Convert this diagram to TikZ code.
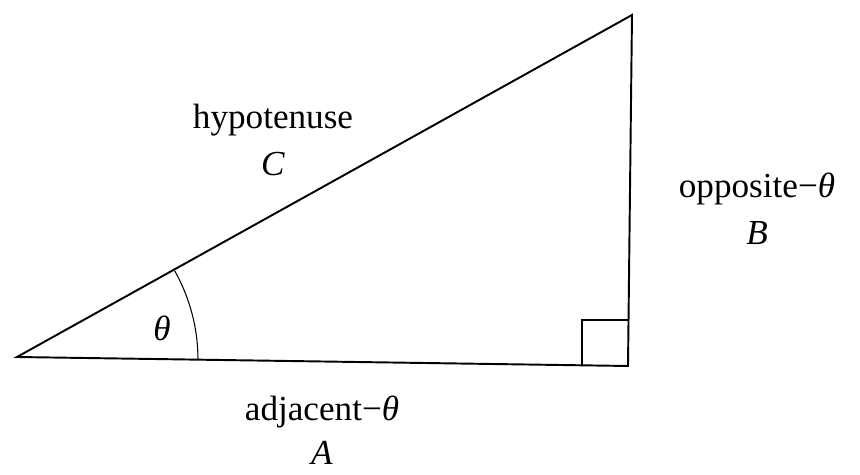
\documentclass[tikz,border=0pt]{standalone}
\usepackage{fontspec}
\setmainfont{Liberation Serif}
\usepackage{tikz}
\usetikzlibrary{positioning}

\begin{document}
\begin{tikzpicture}[
    x=0.02cm, y=-0.02cm,
    sideline/.style={line width=1.1pt, line join=miter},
    anglearc/.style={line width=0.6pt},
    sidelbl/.style={font=\fontsize{20}{27}\selectfont, align=center, inner sep=0pt},
    anglelbl/.style={font=\fontsize{20}{24}\selectfont\itshape, inner sep=0pt},
]
\useasboundingbox (0,0) rectangle (860,475);
% corners of the triangle
\coordinate (left)  at (17, 357);
\coordinate (right) at (628, 366);
\coordinate (top)   at (632, 15);
\draw[sideline] (left) -- (right) -- (top) -- cycle;
% right angle mark
\draw[line width=0.8pt] (582, 365.3) -- (582, 320) -- (629, 320);
% angle at the left corner
\draw[anglearc] (198, 359.7) arc[start angle=0, end angle=-29.4, radius=181];
\node[anglelbl] (theta) at (162, 328) {θ};
% side labels
\node[sidelbl] (hyp) at (273, 140) {hypotenuse\\\textit{C}};
\node[sidelbl] (opp) at (757, 209) {opposite−\textit{θ}\\\textit{B}};
\node[sidelbl, font=\fontsize{20}{25}\selectfont] (adj) at (322, 430) {adjacent−\textit{θ}\\\textit{A}};
\end{tikzpicture}
\end{document}
